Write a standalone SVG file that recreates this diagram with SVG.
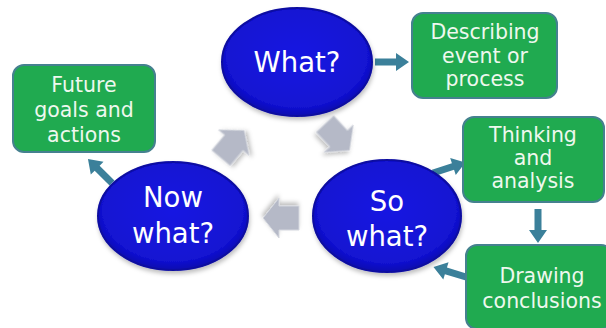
<svg xmlns="http://www.w3.org/2000/svg" xmlns:xlink="http://www.w3.org/1999/xlink" width="606" height="328" viewBox="0 0 606 328">
<style>
.oval{fill:url(#blueG);stroke:#0808a0;stroke-width:2}
.box{fill:#20aa50;stroke:#45818f;stroke-width:2}
.ot{font-family:"DejaVu Sans",sans-serif;font-size:27.5px;fill:#ffffff;text-anchor:middle}
.bt{font-family:"DejaVu Sans",sans-serif;font-size:20.5px;fill:#eef8ee;text-anchor:middle}
.teal{fill:#3b809a}
.gray{fill:#b5b9c7;stroke:#d4d7de;stroke-width:1}
</style>
<defs>
<radialGradient id="blueG" cx="50%" cy="45%" r="55%">
<stop offset="0" stop-color="#1818e2"/>
<stop offset="0.85" stop-color="#1212d2"/>
<stop offset="1" stop-color="#0a0ab0"/>
</radialGradient>
<path id="ta" d="M0,-3.5 H21 V-9 L34,0 L21,9 V3.5 H0 Z"/>
<path id="ga" d="M0,-12 H20 V-20 L36,0 L20,20 V12 H0 Z"/>
<filter id="sh" x="-20%" y="-20%" width="140%" height="140%">
<feDropShadow dx="1" dy="3" stdDeviation="2" flood-color="#000" flood-opacity="0.25"/>
</filter>
</defs>
<g id="connectors">
<use xlink:href="#ta" class="teal" transform="translate(375,62)"/>
<use xlink:href="#ta" class="teal" transform="translate(112,183) rotate(-135)"/>
<use xlink:href="#ta" class="teal" transform="translate(433,173) rotate(-18)"/>
<use xlink:href="#ta" class="teal" transform="translate(538,209) rotate(90)"/>
<use xlink:href="#ta" class="teal" transform="translate(466,277) rotate(197)"/>
<use xlink:href="#ga" class="gray" filter="url(#sh)" transform="translate(325,124) rotate(47)"/>
<use xlink:href="#ga" class="gray" filter="url(#sh)" transform="translate(299,218) rotate(180)"/>
<use xlink:href="#ga" class="gray" filter="url(#sh)" transform="translate(221,158) rotate(-50)"/>
</g>
<g id="what">
<ellipse class="oval" filter="url(#sh)" cx="297" cy="62" rx="75" ry="54"/>
<text class="ot" x="297" y="72">What?</text>
</g>
<g id="sowhat">
<ellipse class="oval" filter="url(#sh)" cx="387" cy="216" rx="74" ry="56"/>
<text class="ot" x="387" y="211">So</text>
<text class="ot" x="387" y="246">what?</text>
</g>
<g id="nowwhat">
<ellipse class="oval" filter="url(#sh)" cx="173" cy="216" rx="75" ry="54"/>
<text class="ot" x="173" y="207">Now</text>
<text class="ot" x="173" y="243">what?</text>
</g>
<g id="describing">
<rect class="box" x="412" y="13" width="145" height="85" rx="11"/>
<text class="bt" x="485" y="39">Describing</text>
<text class="bt" x="485" y="63">event or</text>
<text class="bt" x="485" y="86">process</text>
</g>
<g id="future">
<rect class="box" x="13" y="65" width="142" height="87" rx="11"/>
<text class="bt" x="84" y="92">Future</text>
<text class="bt" x="84" y="117">goals and</text>
<text class="bt" x="84" y="142">actions</text>
</g>
<g id="thinking">
<rect class="box" x="463" y="117" width="141" height="85" rx="11"/>
<text class="bt" x="533" y="142">Thinking</text>
<text class="bt" x="533" y="165">and</text>
<text class="bt" x="533" y="188">analysis</text>
</g>
<g id="drawing">
<rect class="box" x="466" y="245" width="146" height="84" rx="11"/>
<text class="bt" x="542" y="283">Drawing</text>
<text class="bt" x="542" y="308">conclusions</text>
</g>
</svg>
